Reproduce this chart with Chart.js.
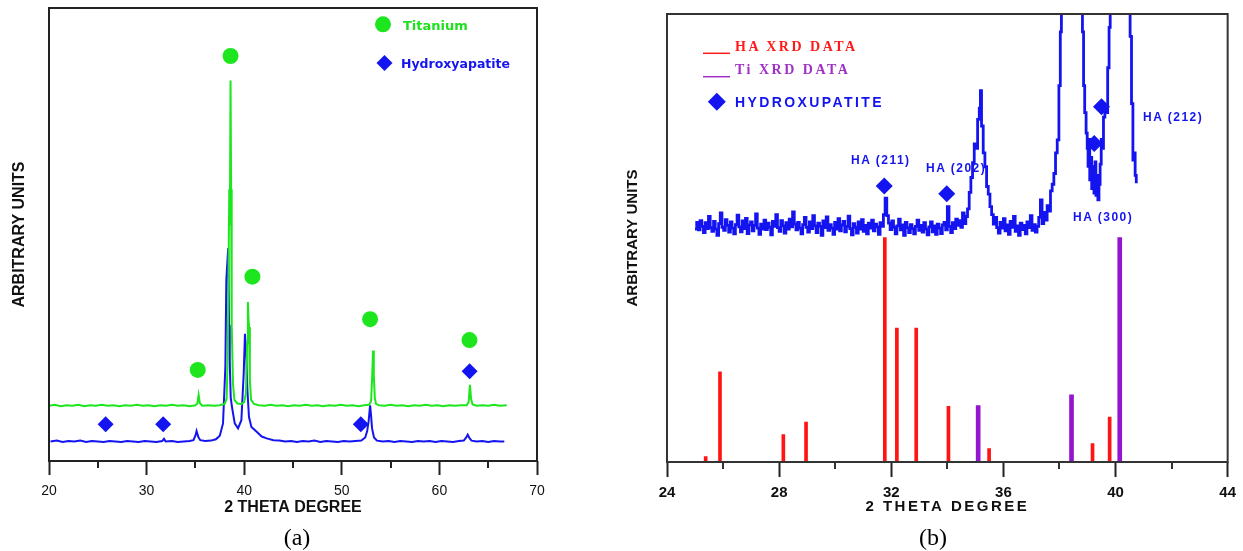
<!DOCTYPE html>
<html>
<head>
<meta charset="utf-8">
<script src="https://cdn.jsdelivr.net/npm/chart.js@4.4.0/dist/chart.umd.min.js"></script>
<style>
    html, body { margin: 0; padding: 0; background: #fff; }
    body { width: 1243px; height: 551px; position: relative; overflow: hidden; font-family: "Liberation Sans", Arial, sans-serif; }
    .box { position: absolute; top: 0; }
    .lbl { position: absolute; white-space: nowrap; line-height: 1; transform: translateY(-50%); }
    .ha { font: bold 12px "Liberation Sans", Arial, sans-serif; letter-spacing: 1.5px; color: #1414f0; }
    .xrd { font: bold 14px "Liberation Serif", "Times New Roman", serif; letter-spacing: 2.5px; }
    .panel { font: 24px "Liberation Serif", "Times New Roman", serif; color: #000; transform: translate(-50%, -50%); }
</style>
</head>
<body>
<div class="box" style="left:0"><canvas id="chartA" width="600" height="551"></canvas></div>
<div class="box" style="left:600px"><canvas id="chartB" width="643" height="551"></canvas></div>

<div class="lbl" style="left:403px; top:24.5px; font:bold 13px 'DejaVu Sans'; color:#1ee01e;">Titanium</div>
<div class="lbl" style="left:401px; top:62.5px; font:bold 12.5px 'DejaVu Sans'; color:#1414f0;">Hydroxyapatite</div>
<div class="lbl panel" style="left:297px; top:537px;">(a)</div>

<div class="lbl xrd" style="left:735px; top:46.8px; color:#ff1a1a;">HA XRD DATA</div>
<div class="lbl xrd" style="left:735px; top:70px; color:#a030c8;">Ti XRD DATA</div>
<div class="lbl" style="left:735px; top:101.7px; font:bold 14px 'Liberation Sans'; letter-spacing:2.4px; color:#1414f0;">HYDROXUPATITE</div>
<div class="lbl ha" style="left:851px; top:160px;">HA (211)</div>
<div class="lbl ha" style="left:926px; top:167.5px;">HA (202)</div>
<div class="lbl ha" style="left:1073px; top:216.7px;">HA (300)</div>
<div class="lbl ha" style="left:1143px; top:116.7px;">HA (212)</div>
<div class="lbl panel" style="left:933px; top:537px;">(b)</div>

<script>
    // (a) scans, [2theta, intensity]
    var tiScan = [[20.0,12.2],[20.6,12.4],[21.2,12.1],[21.8,12.3],[22.4,12.2],[23.0,12.4],[23.6,12.1],[24.2,12.3],
        [24.8,12.2],[25.4,12.4],[26.0,12.2],[26.6,12.3],[27.2,12.1],[27.8,12.3],[28.4,12.2],[29.0,12.4],[29.6,12.2],
        [30.2,12.3],[30.8,12.1],[31.4,12.3],[32.0,12.2],[32.6,12.4],[33.2,12.2],[33.8,12.3],[34.4,12.1],[35.0,12.3],
        [35.2,12.7],[35.33,14.6],[35.45,12.8],[35.7,12.2],[36.3,12.3],[36.9,12.2],[37.5,12.3],[38.0,12.6],[38.2,13.8],
        [38.32,24],[38.42,48],[38.47,60],[38.53,52],[38.6,84],[38.66,60],[38.72,30],[38.85,17],[39.0,13.5],[39.3,12.7],
        [39.7,12.6],[40.0,13.0],[40.18,15],[40.3,26],[40.38,35.1],[40.45,31],[40.5,29.6],[40.58,18],[40.7,13.5],
        [41.0,12.6],[41.5,12.3],[42.1,12.2],[42.7,12.4],[43.3,12.2],[43.9,12.3],[44.5,12.1],[45.1,12.3],[45.7,12.2],
        [46.3,12.4],[46.9,12.2],[47.5,12.3],[48.1,12.1],[48.7,12.3],[49.3,12.2],[49.9,12.4],[50.5,12.2],[51.1,12.3],
        [51.7,12.1],[52.3,12.3],[52.8,12.4],[53.0,13.2],[53.1,18],[53.2,24.4],[53.28,19],[53.38,14],[53.5,12.6],
        [53.8,12.3],[54.4,12.2],[55.0,12.4],[55.6,12.2],[56.2,12.3],[56.8,12.1],[57.4,12.3],[58.0,12.2],[58.6,12.4],
        [59.2,12.2],[59.8,12.3],[60.4,12.1],[61.0,12.3],[61.6,12.2],[62.2,12.3],[62.8,12.3],[63.0,13.0],[63.13,16.8],
        [63.25,13.6],[63.4,12.5],[63.8,12.2],[64.4,12.3],[65.0,12.2],[65.6,12.4],[66.2,12.2],[66.9,12.3]];
    var haScan = [[20.15,4.3],[20.8,4.5],[21.4,4.2],[22.0,4.4],[22.6,4.3],[23.2,4.5],[23.8,4.2],[24.4,4.4],[25.0,4.3],
        [25.6,4.2],[26.2,4.4],[26.8,4.3],[27.4,4.2],[28.0,4.4],[28.6,4.3],[29.2,4.2],[29.8,4.4],[30.4,4.3],[31.0,4.2],
        [31.6,4.4],[31.78,4.9],[31.95,4.3],[32.6,4.4],[33.2,4.2],[33.8,4.3],[34.4,4.4],[34.8,4.6],[35.0,5.6],[35.12,6.6],
        [35.3,5.3],[35.5,4.6],[36.0,4.4],[36.6,4.5],[37.1,4.8],[37.5,5.6],[37.83,8.3],[38.07,20.8],[38.17,40],[38.36,47],
        [38.45,30],[38.52,21.6],[38.62,14],[38.75,11.9],[39.03,8.3],[39.37,7.2],[39.71,9],[39.95,19.3],[40.08,28.1],
        [40.22,23],[40.33,15.6],[40.49,9.7],[40.74,7.5],[41.25,6.5],[41.8,5.4],[42.3,5],[43.0,4.6],[43.6,4.5],[44.2,4.3],
        [44.8,4.4],[45.4,4.2],[46.0,4.4],[46.6,4.3],[47.2,4.5],[47.8,4.2],[48.4,4.4],[49.0,4.3],[49.6,4.2],[50.2,4.4],
        [50.8,4.3],[51.4,4.4],[52.0,4.5],[52.4,5.2],[52.6,6.6],[52.75,8.8],[52.9,12.3],[53.0,10],[53.1,7.2],[53.3,5.2],
        [53.6,4.5],[54.2,4.3],[54.8,4.4],[55.4,4.2],[56.0,4.4],[56.6,4.3],[57.2,4.2],[57.8,4.4],[58.4,4.3],[59.0,4.4],
        [59.6,4.2],[60.2,4.4],[60.8,4.3],[61.4,4.2],[62.0,4.4],[62.5,4.5],[62.75,5.2],[62.9,5.8],[63.1,5.0],[63.3,4.5],
        [63.8,4.3],[64.4,4.4],[65.0,4.2],[65.6,4.4],[66.2,4.3],[66.65,4.3]];
    var tiPeaksA = [[35.24,20.1],[38.6,89.4],[40.84,40.7],[52.9,31.3],[63.08,26.7]];
    var haPeaksA = [[25.8,8.1],[31.7,8.1],[51.95,8.1],[63.1,19.8]];

    // (b) scan and reference lines
    var coatScan = [[25.00,52.0],[25.06,53.5],[25.12,51.8],[25.18,53.9],[25.24,52.6],[25.30,51.2],[25.36,53.4],
        [25.42,52.1],[25.48,54.8],[25.54,52.3],[25.60,51.5],[25.66,53.7],[25.72,52.0],[25.78,50.6],[25.84,53.2],
        [25.90,55.6],[25.96,52.4],[26.02,51.7],[26.08,54.1],[26.14,52.8],[26.20,51.3],[26.26,53.6],[26.32,52.2],
        [26.38,50.9],[26.44,53.0],[26.50,55.1],[26.56,52.5],[26.62,51.4],[26.68,53.8],[26.74,52.1],[26.80,54.4],
        [26.86,51.0],[26.92,52.9],[26.98,53.6],[27.04,51.6],[27.10,52.8],[27.16,55.4],[27.22,52.2],[27.28,50.8],
        [27.34,53.1],[27.40,52.0],[27.46,54.0],[27.52,51.9],[27.58,53.3],[27.64,52.4],[27.70,50.7],[27.76,53.7],
        [27.82,52.6],[27.88,55.2],[27.94,52.3],[28.00,51.5],[28.06,53.9],[28.12,52.7],[28.18,51.1],[28.24,53.4],
        [28.30,52.0],[28.36,54.2],[28.42,52.5],[28.48,55.8],[28.54,53.1],[28.60,51.8],[28.66,53.5],[28.72,52.2],
        [28.78,50.9],[28.84,53.0],[28.90,54.6],[28.96,52.4],[29.02,51.3],[29.08,53.6],[29.14,52.1],[29.20,55.0],
        [29.26,52.7],[29.32,51.2],[29.38,53.3],[29.44,52.6],[29.50,50.6],[29.56,53.8],[29.62,52.3],[29.68,54.7],
        [29.74,51.7],[29.80,53.0],[29.86,52.2],[29.92,50.8],[29.98,53.5],[30.04,52.0],[30.10,54.3],[30.16,51.6],
        [30.22,52.9],[30.28,53.7],[30.34,51.4],[30.40,52.6],[30.46,54.9],[30.52,52.1],[30.58,50.7],[30.64,53.2],
        [30.70,52.4],[30.76,51.1],[30.82,53.6],[30.88,52.0],[30.94,54.1],[31.00,51.5],[31.06,52.8],[31.12,50.9],
        [31.18,53.3],[31.24,52.2],[31.30,54.0],[31.36,51.6],[31.42,53.1],[31.48,52.5],[31.54,50.8],[31.60,53.4],
        [31.66,52.6],[31.72,55.2],[31.78,58.9],[31.84,55.0],[31.90,53.3],[31.96,51.9],[32.02,53.8],[32.08,52.4],
        [32.14,50.9],[32.20,52.7],[32.26,54.2],[32.32,51.8],[32.38,52.9],[32.44,50.6],[32.50,53.5],[32.56,52.3],
        [32.62,51.2],[32.68,53.0],[32.74,52.1],[32.80,50.9],[32.86,52.6],[32.92,54.0],[32.98,51.7],[33.04,52.8],
        [33.10,51.3],[33.16,53.4],[33.22,52.0],[33.28,50.7],[33.34,52.5],[33.40,53.6],[33.46,51.4],[33.52,52.7],
        [33.58,50.8],[33.64,53.1],[33.70,52.2],[33.76,51.0],[33.82,52.9],[33.88,53.5],[33.94,51.8],[34.00,57.0],
        [34.06,52.6],[34.12,51.2],[34.18,53.4],[34.24,52.1],[34.30,54.2],[34.36,52.8],[34.42,53.9],[34.48,52.4],
        [34.54,55.6],[34.60,53.2],[34.66,54.8],[34.72,56.5],[34.78,60.2],[34.84,63.5],[34.90,66.8],[34.96,71.0],
        [35.02,70.0],[35.08,76.5],[35.14,79.0],[35.18,82.9],[35.22,75.0],[35.28,69.0],[35.34,65.9],[35.40,61.5],
        [35.46,59.8],[35.52,57.0],[35.58,55.2],[35.64,53.1],[35.70,54.6],[35.76,52.3],[35.82,51.1],[35.88,53.5],
        [35.94,52.2],[36.00,54.3],[36.06,51.6],[36.12,52.9],[36.18,50.8],[36.24,53.7],[36.30,52.4],[36.36,54.8],
        [36.42,51.5],[36.48,52.7],[36.54,50.6],[36.60,53.3],[36.66,51.9],[36.72,52.8],[36.78,50.9],[36.84,53.6],
        [36.90,52.3],[36.96,55.0],[37.02,51.7],[37.08,53.0],[37.14,51.3],[37.20,52.6],[37.26,54.6],[37.32,58.5],
        [37.38,53.2],[37.44,55.7],[37.50,54.0],[37.56,57.2],[37.62,56.0],[37.68,60.5],[37.74,62.0],[37.80,64.4],
        [37.86,69.0],[37.92,71.9],[37.98,84],[38.03,96],[38.07,125],[38.78,125],[38.82,96],[38.86,84],[38.90,78],
        [38.95,73.4],[38.99,70],[39.02,66],[39.05,72],[39.08,63],[39.12,68],[39.15,61],[39.19,66],[39.23,60],
        [39.27,67],[39.30,59.5],[39.34,64],[39.37,58.5],[39.41,62],[39.45,66.5],[39.49,72],[39.53,70],[39.57,77],
        [39.62,79.2],[39.67,78],[39.72,88],[39.77,97],[39.81,125],[40.47,125],[40.52,95],[40.57,80],[40.62,67.4],
        [40.67,69],[40.70,64],[40.74,62.2]];
    var haRefLines = [[25.38,1.2],[25.89,20.1],[28.15,6.1],[28.96,8.9],[31.77,50.1],[32.2,29.9],[32.89,29.9],
        [34.04,12.4],[35.49,3.0],[39.18,4.1],[39.79,10.0]];
    var tiRefLines = [[35.1,12.6],[38.43,15.0],[40.15,50.1]];
    var haPeaksB = [[31.75,61.6],[33.98,59.9],[39.24,71.1],[39.5,79.3]];

    var green = '#1ee61e';
    var blue = '#1414f0';

    function xy(arr) {
        return arr.map(function (p) { return {x: p[0], y: p[1]}; });
    }

    // Frame, minor ticks and the legend keys drawn inside the plot
    var framePlugin = {
        id: 'frame',
        beforeDraw: function (chart, args, opts) {
            // spaced-out x title only
            var s = chart.scales.x;
            if (opts.titleSpacing && !s._spaced) {
                var orig = s.drawTitle;
                s.drawTitle = function () {
                    var c = this.ctx;
                    c.letterSpacing = opts.titleSpacing;
                    orig.apply(this, arguments);
                    c.letterSpacing = '0px';
                };
                s._spaced = true;
            }
        },
        afterDraw: function (chart, args, opts) {
            var ctx = chart.ctx, a = chart.chartArea, xs = chart.scales.x;
            ctx.save();
            ctx.strokeStyle = opts.color;
            ctx.lineWidth = 2;
            ctx.strokeRect(a.left, a.top, a.right - a.left, a.bottom - a.top);
            opts.minor.forEach(function (v) {
                var px = Math.round(xs.getPixelForValue(v));
                ctx.beginPath();
                ctx.moveTo(px, a.bottom);
                ctx.lineTo(px, a.bottom + opts.minorLen);
                ctx.stroke();
            });
            opts.keys.forEach(function (k) {
                ctx.fillStyle = k.color;
                ctx.strokeStyle = k.color;
                if (k.style === 'line') {
                    ctx.lineWidth = 1.5;
                    ctx.beginPath();
                    ctx.moveTo(k.x, k.y);
                    ctx.lineTo(k.x + 27, k.y);
                    ctx.stroke();
                } else {
                    Chart.helpers.drawPoint(ctx, {pointStyle: k.style, radius: k.r, rotation: 0, borderWidth: 0}, k.x, k.y);
                }
            });
            ctx.restore();
        }
    };

    // (a)
    new Chart(document.getElementById('chartA'), {
        type: 'scatter',
        data: {
            datasets: [
                {data: xy(tiPeaksA), pointStyle: 'circle', pointRadius: 8, backgroundColor: green, borderWidth: 0, order: -1},
                {data: xy(haPeaksA), pointStyle: 'rectRot', pointRadius: 8, backgroundColor: blue, borderWidth: 0, order: -1},
                {label: 'Titanium', data: xy(tiScan), showLine: true, borderColor: green, borderWidth: 2, pointRadius: 0, order: 0},
                {label: 'Hydroxyapatite', data: xy(haScan), showLine: true, borderColor: blue, borderWidth: 2, pointRadius: 0, order: 1}
            ]
        },
        options: {
            responsive: false,
            animation: false,
            events: [],
            layout: {padding: {left: 0, top: 8, right: 63, bottom: 0}},
            plugins: {
                legend: {display: false},
                tooltip: {enabled: false},
                frame: {
                    color: '#222', minor: [25, 35, 45, 55, 65], minorLen: 7,
                    keys: [
                        {style: 'circle', x: 383, y: 24.3, r: 8, color: green},
                        {style: 'rectRot', x: 384.5, y: 63, r: 8, color: blue}
                    ]
                }
            },
            scales: {
                x: {
                    type: 'linear', min: 20, max: 70,
                    ticks: {stepSize: 10, color: '#111', padding: 8, font: {size: 14, family: 'Liberation Sans'}},
                    grid: {drawOnChartArea: false, drawTicks: true, tickLength: 14, tickWidth: 2, tickColor: '#222'},
                    border: {display: false},
                    title: {display: true, text: '2 THETA DEGREE', color: '#111',
                        font: {size: 16, weight: 'bold', family: 'Liberation Sans'}, padding: {top: 0, bottom: 34}},
                    afterFit: function (s) { s.height = 90; }
                },
                y: {
                    min: 0, max: 100,
                    ticks: {display: false},
                    grid: {display: false},
                    border: {display: false},
                    title: {display: true, text: 'ARBITRARY UNITS', color: '#111',
                        font: {size: 16, weight: 'bold', family: 'Liberation Sans'}, padding: {top: 10, bottom: 0}},
                    afterFit: function (s) { s.width = 49; }
                }
            }
        },
        plugins: [framePlugin]
    });

    // (b)
    new Chart(document.getElementById('chartB'), {
        type: 'bar',
        data: {
            datasets: [
                {type: 'line', data: xy(haPeaksB), showLine: false, pointStyle: 'rectRot', pointRadius: 8.5,
                    backgroundColor: blue, borderWidth: 0, order: -1},
                {type: 'line', label: 'Coating', data: xy(coatScan), stepped: true, borderColor: blue,
                    borderWidth: 2.8, pointRadius: 0, order: 0},
                {label: 'HA XRD DATA', data: xy(haRefLines), backgroundColor: '#ff1414', barThickness: 3,
                    stack: 'ref', order: 1},
                {label: 'Ti XRD DATA', data: xy(tiRefLines), backgroundColor: '#9414d0', barThickness: 4,
                    stack: 'ref', order: 1}
            ]
        },
        options: {
            responsive: false,
            animation: false,
            events: [],
            layout: {padding: {left: 0, top: 14, right: 15, bottom: 0}},
            plugins: {
                legend: {display: false},
                tooltip: {enabled: false},
                frame: {
                    color: '#333', minor: [26, 30, 34, 38, 42], minorLen: 7, titleSpacing: '2.5px',
                    keys: [
                        {style: 'line', x: 103, y: 53.3, color: '#ff1a1a'},
                        {style: 'line', x: 103, y: 76.7, color: '#a030c8'},
                        {style: 'rectRot', x: 116.8, y: 101.7, r: 9, color: blue}
                    ]
                }
            },
            scales: {
                x: {
                    type: 'linear', min: 24, max: 44, offset: false,
                    ticks: {stepSize: 4, color: '#111', padding: 7, font: {size: 15, weight: 'bold', family: 'Liberation Sans'}},
                    grid: {offset: false, drawOnChartArea: false, drawTicks: true, tickLength: 15, tickWidth: 2, tickColor: '#222'},
                    border: {display: false},
                    title: {display: true, text: '2 THETA DEGREE', color: '#111',
                        font: {size: 15, weight: 'bold', family: 'Liberation Sans'}, padding: {top: 0, bottom: 35}},
                    afterFit: function (s) { s.height = 89; }
                },
                y: {
                    min: 0, max: 100,
                    ticks: {display: false},
                    grid: {display: false},
                    border: {display: false},
                    title: {display: true, text: 'ARBITRARY UNITS', color: '#111',
                        font: {size: 15, weight: 'bold', family: 'Liberation Sans'}, padding: {top: 24, bottom: 0}},
                    afterFit: function (s) { s.width = 67; }
                }
            }
        },
        plugins: [framePlugin]
    });
</script>
</body>
</html>
